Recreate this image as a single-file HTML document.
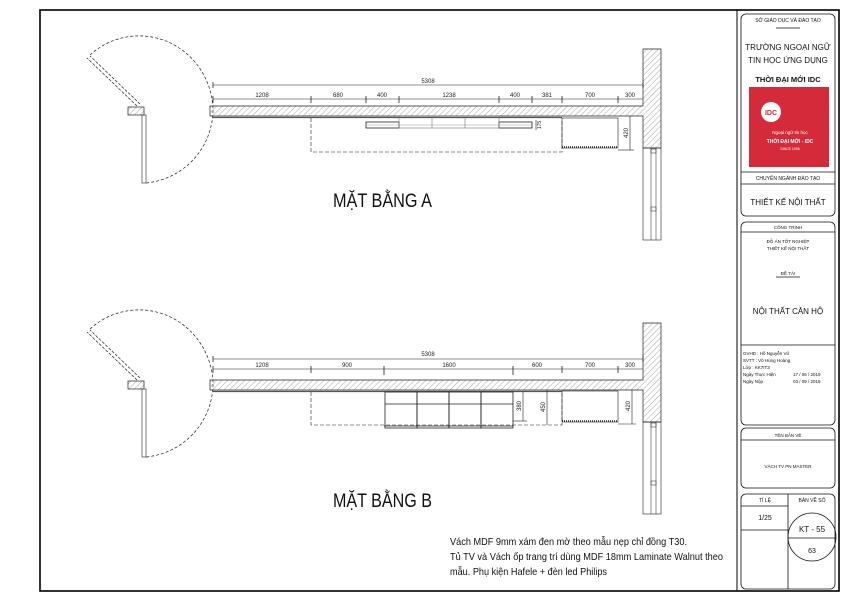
<!DOCTYPE html>
<html><head><meta charset="utf-8"><style>
html,body{margin:0;padding:0;background:#fff;}
svg{display:block;font-family:"Liberation Sans",Arial,sans-serif;}
</style></head><body>
<svg width="850" height="601" viewBox="0 0 850 601" xmlns="http://www.w3.org/2000/svg">
<defs>
<pattern id="h" width="4" height="4" patternUnits="userSpaceOnUse" patternTransform="rotate(45)">
<line x1="0" y1="0" x2="0" y2="4" stroke="#666" stroke-width="0.6"/>
</pattern>
<g id="plan" stroke="#222" fill="none" stroke-width="0.7">
  <rect x="128" y="107" width="16" height="8" fill="url(#h)"/>
  <rect x="142" y="115" width="4" height="68" stroke="#444"/>
  <line x1="140" y1="104" x2="90" y2="56" stroke-dasharray="3,1.5"/>
  <line x1="137" y1="106" x2="87" y2="58" stroke-dasharray="3,1.5"/>
  <path d="M90 55 A74 76 0 0 1 213 108 A74 74 0 0 1 146 183" stroke-dasharray="3,2"/>
  <line x1="213" y1="85" x2="643" y2="85" stroke-width="0.5"/>
  <path d="M210 106 H643 V49 H661 V148 H643 V116 H210 Z" fill="url(#h)"/>
  <line x1="213" y1="117.5" x2="562" y2="117.5" stroke-width="1.2" stroke="#555"/>
  <rect x="643" y="148" width="18" height="92" stroke-width="0.6"/>
  <line x1="651" y1="148" x2="651" y2="240" stroke-width="0.5"/>
  <line x1="656" y1="148" x2="656" y2="240" stroke-width="0.5"/>
  <rect x="651" y="149" width="5" height="4" stroke-width="0.5"/>
  <rect x="651" y="207" width="5" height="4" stroke-width="0.5"/>
</g>
</defs>

<rect x="40" y="10" width="799" height="581" fill="none" stroke="#000" stroke-width="1.6"/>
<line x1="737" y1="10" x2="737" y2="591" stroke="#000" stroke-width="1"/>

<use href="#plan"/>
<g stroke="#222" fill="none" stroke-width="0.6">
  <line x1="213" y1="99" x2="643" y2="99"/>
  <g stroke-width="0.8">
  <line x1="213" y1="96" x2="213" y2="103"/><line x1="311" y1="96" x2="311" y2="103"/><line x1="366" y1="96" x2="366" y2="103"/><line x1="399" y1="96" x2="399" y2="103"/><line x1="499" y1="96" x2="499" y2="103"/><line x1="532" y1="96" x2="532" y2="103"/><line x1="562" y1="96" x2="562" y2="103"/><line x1="618" y1="96" x2="618" y2="103"/><line x1="213" y1="82" x2="213" y2="88"/><line x1="643" y1="82" x2="643" y2="88"/>
  </g>
  <path d="M311 118 V152 H562 V118" stroke-dasharray="4,2"/>
  <rect x="366" y="122" width="33" height="6" stroke-width="0.8"/>
  <rect x="499" y="122" width="33" height="6" stroke-width="0.8"/>
  <rect x="399" y="116" width="100" height="12" stroke="#777"/>
  <line x1="432" y1="116" x2="432" y2="128" stroke="#777"/><line x1="465" y1="116" x2="465" y2="128" stroke="#777"/>
  <line x1="366" y1="125" x2="532" y2="125" stroke="#999"/>
  <rect x="562" y="118" width="56" height="30"/>
  <line x1="562" y1="147" x2="618" y2="147" stroke-dasharray="1,1" stroke-width="1.5"/>
  <line x1="630" y1="116" x2="630" y2="150"/><line x1="618" y1="150" x2="634" y2="150"/>
  <line x1="536" y1="120" x2="536" y2="130"/>
</g>
<g font-size="6" fill="#222" text-anchor="middle">
  <text x="428" y="83">5308</text>
  <text x="262" y="97">1208</text><text x="338" y="97">680</text><text x="382" y="97">400</text><text x="449" y="97">1238</text><text x="515" y="97">400</text><text x="547" y="97">381</text><text x="590" y="97">700</text><text x="630" y="97">300</text>
  <text transform="translate(628,133) rotate(-90)">420</text>
  <text transform="translate(541,125) rotate(-90)" font-size="5">175</text>
</g>
<text x="333" y="207" font-size="19" textLength="99" lengthAdjust="spacingAndGlyphs" fill="#111">MẶT BẰNG A</text>

<use href="#plan" transform="translate(0,274)"/>
<g stroke="#222" fill="none" stroke-width="0.6">
  <line x1="213" y1="369" x2="643" y2="369"/>
  <g stroke-width="0.8">
  <line x1="213" y1="366" x2="213" y2="373"/><line x1="311" y1="366" x2="311" y2="373"/><line x1="384" y1="366" x2="384" y2="375"/><line x1="513" y1="366" x2="513" y2="375"/><line x1="562" y1="366" x2="562" y2="373"/><line x1="618" y1="366" x2="618" y2="373"/><line x1="213" y1="356" x2="213" y2="362"/><line x1="643" y1="356" x2="643" y2="362"/>
  </g>
  <path d="M311 392 V425 H562 V392" stroke-dasharray="4,2"/>
  <g stroke-width="0.8">
  <rect x="385" y="392" width="32" height="36"/><rect x="417" y="392" width="32" height="36"/><rect x="449" y="392" width="32" height="36"/><rect x="481" y="392" width="32" height="36"/>
  <line x1="385" y1="404" x2="513" y2="404"/><line x1="384" y1="426" x2="513" y2="426"/>
  </g>
  <line x1="523" y1="392" x2="523" y2="421"/><line x1="513" y1="421" x2="527" y2="421"/>
  <line x1="547" y1="390" x2="547" y2="425"/>
  <rect x="562" y="391" width="56" height="31"/>
  <line x1="562" y1="421" x2="618" y2="421" stroke-dasharray="1,1" stroke-width="1.5"/>
  <line x1="632" y1="390" x2="632" y2="424"/><line x1="618" y1="424" x2="636" y2="424"/>
</g>
<g font-size="6" fill="#222" text-anchor="middle">
  <text x="428" y="356">5308</text>
  <text x="262" y="367">1208</text><text x="347" y="367">900</text><text x="449" y="367">1600</text><text x="537" y="367">600</text><text x="590" y="367">700</text><text x="630" y="367">300</text>
  <text transform="translate(521,406) rotate(-90)">380</text>
  <text transform="translate(545,407) rotate(-90)">450</text>
  <text transform="translate(630,406) rotate(-90)">420</text>
</g>
<text x="333" y="507" font-size="19" textLength="99" lengthAdjust="spacingAndGlyphs" fill="#111">MẶT BẰNG B</text>

<g font-size="10.5" fill="#111">
<text x="450" y="545" textLength="237" lengthAdjust="spacingAndGlyphs">Vách MDF 9mm xám đen mờ theo mẫu nẹp chỉ đồng T30.</text>
<text x="450" y="560" textLength="273" lengthAdjust="spacingAndGlyphs">Tủ TV và Vách ốp trang trí dùng MDF 18mm Laminate Walnut theo</text>
<text x="450" y="575" textLength="157" lengthAdjust="spacingAndGlyphs">mẫu. Phụ kiện Hafele + đèn led Philips</text>
</g>

<g fill="none" stroke="#111" stroke-width="0.8">
  <rect x="741" y="14" width="94" height="202" rx="5"/>
  <line x1="741" y1="172" x2="835" y2="172"/><line x1="741" y1="184" x2="835" y2="184"/>
  <line x1="776" y1="28" x2="800" y2="28"/>
  <rect x="741" y="222" width="94" height="203" rx="5"/>
  <line x1="741" y1="232" x2="835" y2="232"/>
  <line x1="776" y1="277" x2="800" y2="277"/>
  <line x1="741" y1="345" x2="835" y2="345"/>
  <rect x="741" y="428" width="94" height="60" rx="5"/>
  <line x1="741" y1="440" x2="835" y2="440"/>
  <rect x="741" y="494" width="94" height="95" rx="5"/>
  <line x1="788" y1="494" x2="788" y2="589"/>
  <line x1="741" y1="506" x2="788" y2="506"/><line x1="741" y1="530" x2="788" y2="530"/>
  <circle cx="812" cy="537" r="24"/>
  <line x1="788" y1="538" x2="836" y2="538"/>
</g>
<rect x="749" y="87" width="80" height="80" fill="#d42a3a"/>
<circle cx="771" cy="112" r="10" fill="#fff"/>
<text x="771" y="115" font-size="7" font-weight="bold" fill="#d42a3a" text-anchor="middle">IDC</text>
<g fill="#fff" text-anchor="middle">
<text x="790" y="134" font-size="4.5">Ngoại ngữ tin học</text>
<text x="790" y="143" font-size="5" font-weight="bold">THỜI ĐẠI MỚI - IDC</text>
<text x="790" y="150" font-size="3.5">SINCE 1996</text>
</g>
<g fill="#111" text-anchor="middle">
<text x="788" y="22" font-size="5">SỞ GIÁO DỤC VÀ ĐÀO TẠO</text>
<text x="788" y="50" font-size="8">TRƯỜNG NGOẠI NGỮ</text>
<text x="788" y="63" font-size="8">TIN HỌC ỨNG DỤNG</text>
<text x="788" y="82" font-size="7.5" font-weight="bold">THỜI ĐẠI MỚI IDC</text>
<text x="788" y="180" font-size="5">CHUYÊN NGÀNH ĐÀO TẠO</text>
<text x="788" y="205" font-size="8">THIẾT KẾ NỘI THẤT</text>
<text x="788" y="229" font-size="4.5">CÔNG TRÌNH</text>
<text x="788" y="243" font-size="4.5">ĐỒ ÁN TỐT NGHIỆP</text>
<text x="788" y="250" font-size="4.5">THIẾT KẾ NỘI THẤT</text>
<text x="788" y="275" font-size="4.5">ĐỀ TÀI</text>
<text x="788" y="314" font-size="8">NỘI THẤT CĂN HỘ</text>
<text x="788" y="437" font-size="4.5">TÊN BẢN VẼ</text>
<text x="788" y="468" font-size="4.5">VÁCH TV PN MASTER</text>
<text x="765" y="502" font-size="5">TỈ LỆ</text>
<text x="812" y="502" font-size="5">BẢN VẼ SỐ</text>
<text x="765" y="520" font-size="7">1/25</text>
<text x="812" y="532" font-size="8">KT - 55</text>
<text x="812" y="553" font-size="7">63</text>
</g>
<g fill="#111" font-size="4.5">
<text x="743" y="355">GVHD  : Hồ Nguyễn Vũ</text>
<text x="743" y="362">SVTT  : Võ Hùng Hoàng</text>
<text x="743" y="369">Lớp    : KK7IT3</text>
<text x="743" y="376">Ngày Thực Hiện</text><text x="793" y="376">17 / 06 / 2019</text>
<text x="743" y="383">Ngày Nộp</text><text x="793" y="383">03 / 09 / 2019</text>
</g>
</svg>
</body></html>
